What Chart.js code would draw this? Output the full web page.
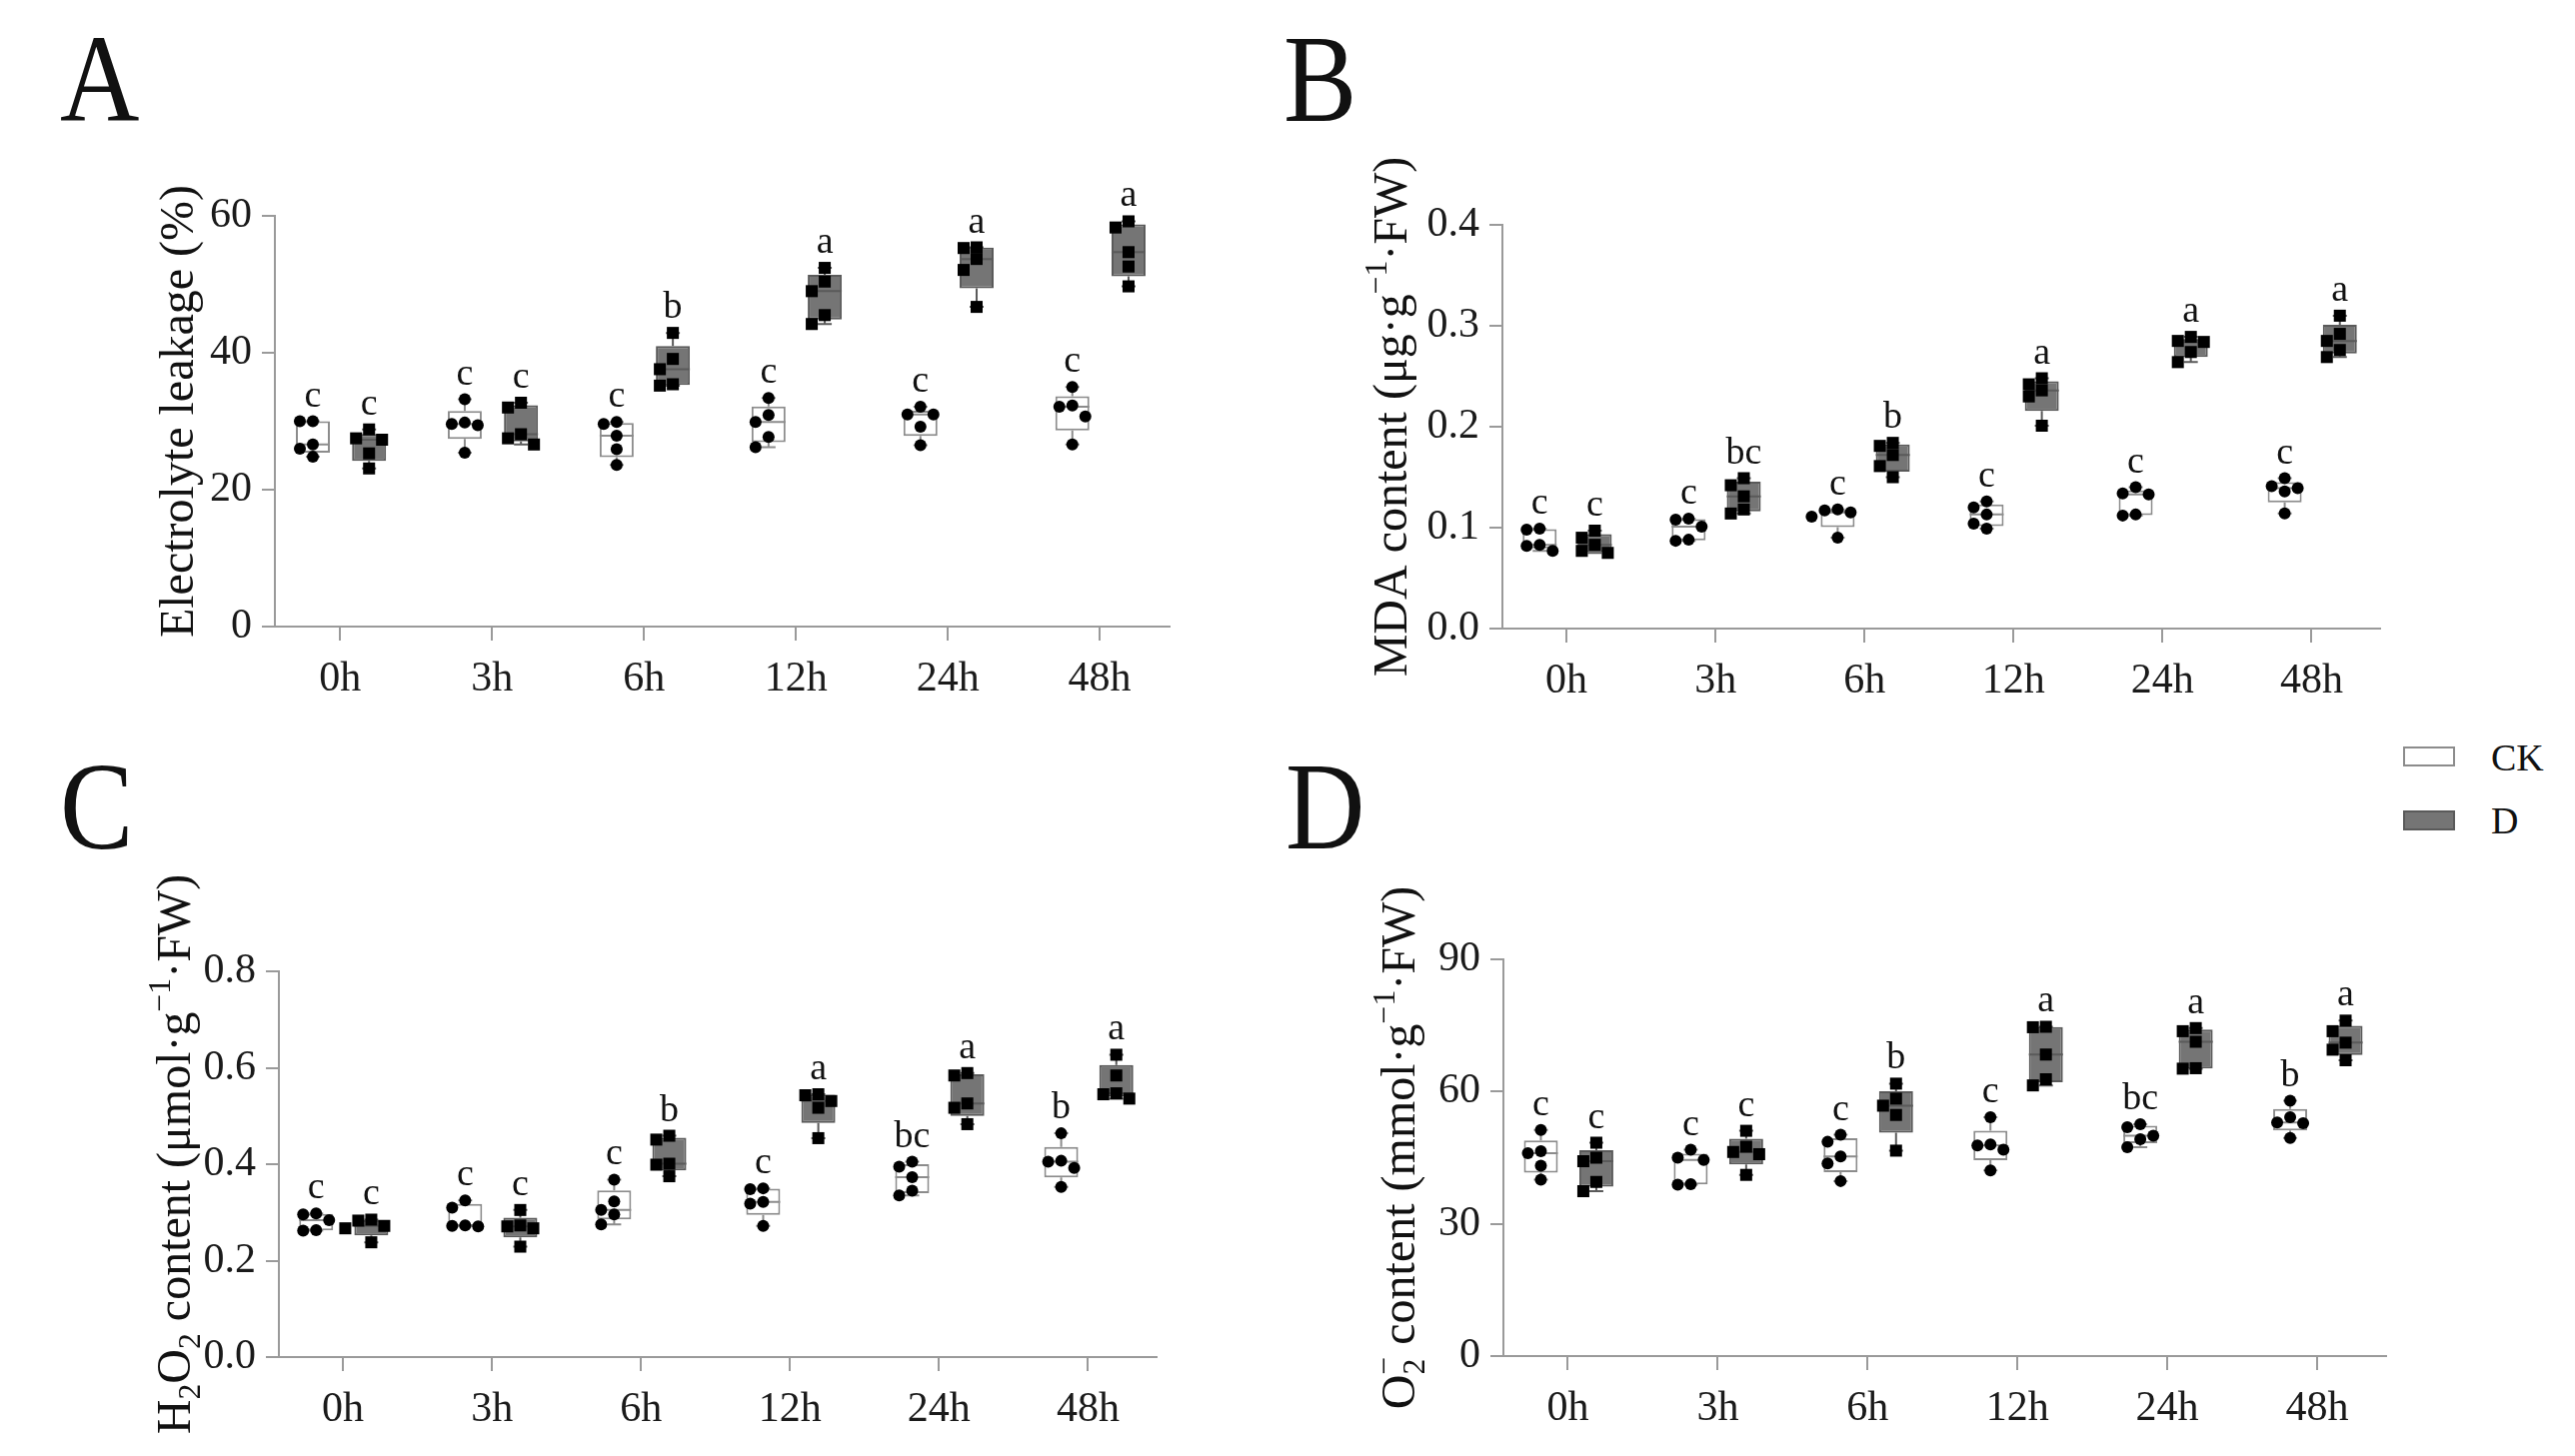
<!DOCTYPE html>
<html><head><meta charset="utf-8">
<script src="https://cdn.jsdelivr.net/npm/chart.js@4.4.1/dist/chart.umd.min.js"></script>
<style>
body{margin:0;background:#fff;width:2576px;height:1457px;position:relative;overflow:hidden;font-family:"Liberation Serif",serif;color:#111}
canvas{position:absolute}
.tag{position:absolute;font-size:125px;line-height:1;transform:scaleX(.88);transform-origin:left top}
.lgbox{position:absolute;width:52px;height:20px;box-sizing:border-box;border:2px solid #8c8c8c}
.lgtxt{position:absolute;font-size:38px;line-height:1}
</style></head><body>
<div class="tag" style="left:60px;top:17px">A</div>
<div class="tag" style="left:1284px;top:17px">B</div>
<div class="tag" style="left:60px;top:745px">C</div>
<div class="tag" style="left:1286px;top:745px">D</div>
<div class="lgbox" style="left:2404px;top:747px;background:#fff"></div>
<div class="lgtxt" style="left:2492px;top:739px">CK</div>
<div class="lgbox" style="left:2404px;top:811px;background:#757575;border-color:#5a5a5a"></div>
<div class="lgtxt" style="left:2492px;top:802px">D</div>
<canvas id="cA"></canvas><canvas id="cB"></canvas><canvas id="cC"></canvas><canvas id="cD"></canvas>
<script>
const TIMES=['0h','3h','6h','12h','24h','48h'];

// A electrolyte leakage (%), 5 replicates per time
const EL_CK=[[30.0,30.0,26.6,26.0,24.8],[33.2,29.8,29.6,29.4,25.4],[29.9,29.6,27.9,25.9,23.6],[33.4,30.9,29.9,27.7,26.2],[32.1,31.0,31.0,29.2,26.5],[35.0,32.3,32.1,30.7,26.6]];
const EL_D=[[28.8,27.5,27.3,25.3,23.1],[32.7,32.0,28.1,27.5,26.6],[42.9,39.1,37.6,35.4,35.2],[52.4,50.4,49.0,45.5,44.2],[55.4,55.3,53.7,52.1,46.7],[59.2,58.3,54.7,52.6,49.7]];
const EL_CK_SIG=['c','c','c','c','c','c'];
const EL_D_SIG=['c','c','b','a','a','a'];
const EL_TICKS=[0,20,40,60];

// B MDA
const MDA_CK=[[0.099,0.098,0.083,0.082,0.077],[0.109,0.108,0.101,0.088,0.087],[0.118,0.117,0.115,0.111,0.090],[0.126,0.120,0.113,0.104,0.099],[0.140,0.134,0.133,0.113,0.112],[0.149,0.141,0.139,0.136,0.114]];
const MDA_D=[[0.097,0.090,0.083,0.077,0.075],[0.149,0.142,0.131,0.118,0.114],[0.184,0.181,0.172,0.161,0.150],[0.248,0.242,0.236,0.230,0.201],[0.289,0.285,0.284,0.274,0.264],[0.310,0.292,0.285,0.276,0.269]];
const MDA_CK_SIG=['c','c','c','c','c','c'];
const MDA_D_SIG=['c','bc','b','a','a','a'];
const MDA_TICKS=[0,0.1,0.2,0.3,0.4];

// C H2O2
const H2O2_CK=[[0.298,0.296,0.284,0.263,0.262],[0.325,0.310,0.273,0.272,0.271],[0.368,0.323,0.305,0.296,0.275],[0.350,0.348,0.322,0.318,0.272],[0.405,0.395,0.373,0.345,0.335],[0.464,0.407,0.405,0.392,0.353]];
const H2O2_D=[[0.285,0.283,0.272,0.267,0.238],[0.305,0.273,0.271,0.267,0.229],[0.459,0.451,0.401,0.399,0.375],[0.545,0.543,0.531,0.517,0.454],[0.589,0.584,0.526,0.517,0.483],[0.627,0.584,0.547,0.545,0.536]];
const H2O2_CK_SIG=['c','c','c','c','bc','b'];
const H2O2_D_SIG=['c','c','b','a','a','a'];
const H2O2_TICKS=[0,0.2,0.4,0.6,0.8];

// D O2-
const O2_CK=[[51.3,46.5,46.0,43.2,40.0],[46.8,45.0,44.5,39.0,38.9],[50.2,48.6,45.3,43.7,39.7],[54.2,48.0,47.8,46.8,42.1],[52.6,51.9,50.0,49.2,47.4],[57.9,54.2,53.0,52.8,49.5]];
const O2_D=[[48.4,45.0,44.2,39.5,37.4],[51.1,47.5,46.3,45.8,41.1],[61.8,58.4,56.8,54.7,46.6],[74.7,74.6,68.4,62.8,61.4],[74.4,73.7,71.3,65.3,65.2],[76.1,73.7,71.1,69.5,67.1]];
const O2_CK_SIG=['c','c','c','c','bc','b'];
const O2_D_SIG=['c','c','b','a','a','a'];
const O2_TICKS=[0,30,60,90];

const FONT='"Liberation Serif", "Times New Roman", serif';
const CK_OFF=-0.18, D_OFF=0.19, XMIN=-0.43, XMAX=5.46;

function stats(v){
  const s=[...v].sort((a,b)=>a-b), n=s.length;
  const q=p=>{const h=(n+1)*p, lo=Math.floor(h), fr=h-lo; if(lo<1)return s[0]; if(lo>=n)return s[n-1]; return s[lo-1]+fr*(s[lo]-s[lo-1]);};
  return {min:s[0],q1:q(.25),med:q(.5),q3:q(.75),max:s[n-1]};
}
// simple beeswarm, offsets in px
function swarm(vals,pyu){
  const d=13, diam=11.5, placed=[], out=[];
  vals.map((v,i)=>i).sort((a,b)=>vals[b]-vals[a]).forEach(i=>{
    const y=vals[i]*pyu;
    for(const k of [0,-1,1,-2,2]){const x=k*d; if(placed.every(p=>Math.hypot(p.x-x,p.y-y)>=diam)){placed.push({x,y});out[i]=x;break;}}
  });
  return out;
}

function drawRich(ctx,segs,cx,cy,size){
  const sm=size*0.66;
  ctx.save(); ctx.translate(cx,cy); ctx.rotate(-Math.PI/2);
  ctx.fillStyle='#111'; ctx.textBaseline='alphabetic'; ctx.textAlign='left';
  let total=0, lastW=0;
  segs.forEach(s=>{ctx.font=(s.sub||s.sup?sm:size)+'px '+FONT; const w=ctx.measureText(s.t).width; if(s.stack){total+=Math.max(0,w-lastW);} else {total+=w;} lastW=w;});
  let x=-total/2, prevX=x; lastW=0;
  segs.forEach(s=>{
    ctx.font=(s.sub||s.sup?sm:size)+'px '+FONT;
    const w=ctx.measureText(s.t).width;
    const dy=s.sub?size*0.22:s.sup?-size*0.42:0;
    if(s.stack){ctx.fillText(s.t,prevX,size*0.33+dy); x=prevX+Math.max(w,lastW);}
    else {ctx.fillText(s.t,x,size*0.33+dy); prevX=x; x+=w;}
    lastW=w;
  });
  ctx.restore();
}

function panel(id,area,ck,dd,ckSig,dSig,ticks,fmt,title,tdx){
  const padTop=110, yW=150, xH=85, padR=20;
  const cv=document.getElementById(id);
  const left=area.L-yW, top=area.T-padTop;
  cv.width=area.R+padR-left; cv.height=area.B+xH-top;
  cv.style.left=left+'px'; cv.style.top=top+'px';
  const ymin=ticks[0], ymax=ticks[ticks.length-1];
  const pyu=(area.B-area.T)/(ymax-ymin), pxu=(area.R-area.L)/(XMAX-XMIN);
  const ckS=ck.map(stats), dS=dd.map(stats);
  const pts=(groups,off)=>groups.flatMap((g,i)=>{const j=swarm(g,pyu); return g.map((v,k)=>({x:i+off+j[k]/pxu,y:v}));});
  const boxes=(st,off)=>st.map((s,i)=>({x:i+off,y:[s.q1,s.q3]}));
  const extras={id:'extras',
    afterDatasetDraw(chart,args){
      const ds=chart.data.datasets[args.index]; if(!ds.stats)return;
      const ctx=chart.ctx, xs=chart.scales.x, ys=chart.scales.y;
      ctx.save(); ctx.strokeStyle=ds.borderColor; ctx.lineWidth=2;
      ds.stats.forEach((s,i)=>{
        const cx=xs.getPixelForValue(i+ds.off), hw=ds.maxBarThickness/2, cap=7;
        const p=v=>ys.getPixelForValue(v);
        ctx.beginPath();
        ctx.moveTo(cx,p(s.q3)); ctx.lineTo(cx,p(s.max));
        ctx.moveTo(cx-cap,p(s.max)); ctx.lineTo(cx+cap,p(s.max));
        ctx.moveTo(cx,p(s.q1)); ctx.lineTo(cx,p(s.min));
        ctx.moveTo(cx-cap,p(s.min)); ctx.lineTo(cx+cap,p(s.min));
        ctx.moveTo(cx-hw,p(s.med)); ctx.lineTo(cx+hw,p(s.med));
        ctx.stroke();
      });
      ctx.restore();
    },
    afterDatasetsDraw(chart){
      const ctx=chart.ctx, xs=chart.scales.x, ys=chart.scales.y;
      ctx.save(); ctx.font='38px '+FONT; ctx.fillStyle='#111'; ctx.textAlign='center'; ctx.textBaseline='alphabetic';
      [[ckS,ckSig,CK_OFF],[dS,dSig,D_OFF]].forEach(([st,sig,off])=>st.forEach((s,i)=>{
        ctx.fillText(sig[i],xs.getPixelForValue(i+off),ys.getPixelForValue(s.max)-15);
      }));
      ctx.restore();
      const a=chart.chartArea;
      drawRich(ctx,title,a.left+tdx,(a.top+a.bottom)/2-10,48);
    }
  };
  const axisCol='#9a9a9a';
  new Chart(cv,{
    type:'bar',
    data:{datasets:[
      {type:'scatter',data:pts(ck,CK_OFF),pointStyle:'circle',pointRadius:6,backgroundColor:'#000',borderWidth:0,order:1,clip:false},
      {type:'scatter',data:pts(dd,D_OFF),pointStyle:'rect',pointRadius:8.5,backgroundColor:'#000',borderWidth:0,order:1,clip:false},
      {type:'bar',data:boxes(ckS,CK_OFF),stats:ckS,off:CK_OFF,backgroundColor:'#fff',borderColor:'#8c8c8c',borderWidth:2,borderSkipped:false,grouped:false,maxBarThickness:34,order:2,clip:false},
      {type:'bar',data:boxes(dS,D_OFF),stats:dS,off:D_OFF,backgroundColor:'#757575',borderColor:'#5a5a5a',borderWidth:2,borderSkipped:false,grouped:false,maxBarThickness:34,order:2,clip:false}
    ]},
    options:{
      responsive:false,devicePixelRatio:1,animation:false,
      layout:{padding:{top:padTop,right:padR,left:0,bottom:0}},
      plugins:{legend:{display:false},tooltip:{enabled:false}},
      scales:{
        x:{type:'linear',min:XMIN,max:XMAX,offset:false,
          afterBuildTicks:s=>{s.ticks=TIMES.map((t,i)=>({value:i}));},
          afterFit:s=>{s.height=xH;},
          ticks:{callback:v=>TIMES[v],font:{family:FONT,size:42},color:'#1a1a1a',padding:14,autoSkip:false,maxRotation:0},
          grid:{display:true,drawOnChartArea:false,drawTicks:true,tickLength:14,color:axisCol,lineWidth:2,offset:false},
          border:{display:true,color:axisCol,width:2}},
        y:{type:'linear',min:ymin,max:ymax,
          afterBuildTicks:s=>{s.ticks=ticks.map(v=>({value:v}));},
          afterFit:s=>{s.width=yW;},
          ticks:{callback:fmt,font:{family:FONT,size:42},color:'#1a1a1a',padding:10},
          grid:{display:true,drawOnChartArea:false,drawTicks:true,tickLength:13,color:axisCol,lineWidth:2},
          border:{display:true,color:axisCol,width:2}}
      }
    },
    plugins:[extras]
  });
}

panel('cA',{L:275,R:1170,T:216,B:627},EL_CK,EL_D,EL_CK_SIG,EL_D_SIG,EL_TICKS,v=>String(v),
  [{t:'Electrolyte leakage (%)'}],-98);
panel('cB',{L:1503,R:2381,T:225,B:629},MDA_CK,MDA_D,MDA_CK_SIG,MDA_D_SIG,MDA_TICKS,v=>v.toFixed(1),
  [{t:'MDA content (μg·g'},{t:'−1',sup:1},{t:'·FW)'}],-112);
panel('cC',{L:279,R:1157,T:972,B:1358},H2O2_CK,H2O2_D,H2O2_CK_SIG,H2O2_D_SIG,H2O2_TICKS,v=>v.toFixed(1),
  [{t:'H'},{t:'2',sub:1},{t:'O'},{t:'2',sub:1},{t:' content (μmol·g'},{t:'−1',sup:1},{t:'·FW)'}],-105);
panel('cD',{L:1504,R:2387,T:960,B:1357},O2_CK,O2_D,O2_CK_SIG,O2_D_SIG,O2_TICKS,v=>String(v),
  [{t:'O'},{t:'2',sub:1},{t:'−',sup:1,stack:1},{t:' content (mmol·g'},{t:'−1',sup:1},{t:'·FW)'}],-105);
</script>
</body></html>
